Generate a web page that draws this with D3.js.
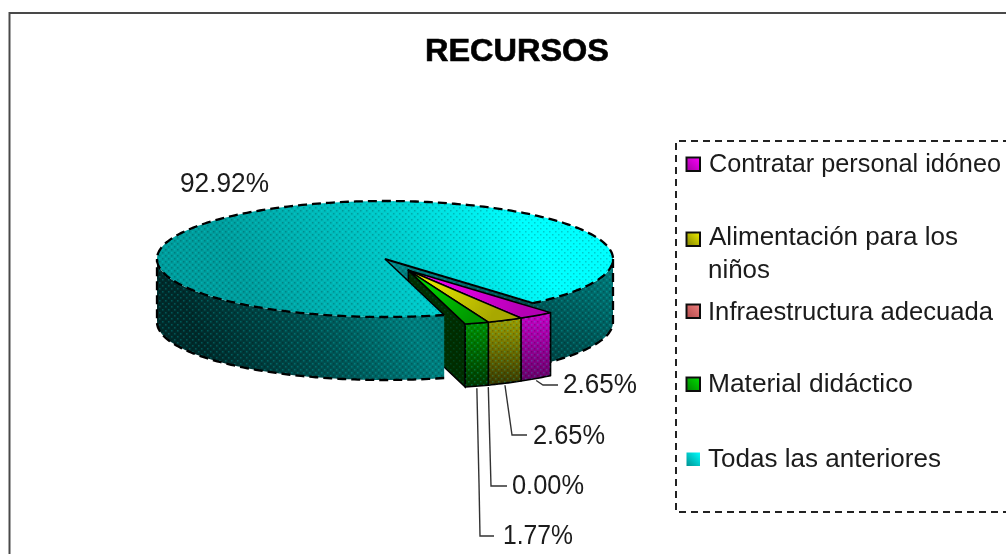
<!DOCTYPE html>
<html><head><meta charset="utf-8">
<script src="https://cdn.jsdelivr.net/npm/d3@7/dist/d3.min.js"></script>
<style>html,body{margin:0;padding:0;background:#fff;overflow:hidden}svg{display:block}text{font-family:"Liberation Sans",Arial,sans-serif;fill:#1a1a1a}</style>
</head><body><svg id="c" width="1006" height="554"></svg>
<script>
// ---- data ----
const categories = ["Contratar personal idóneo","Alimentación para los niños","Infraestructura adecuada","Material didáctico","Todas las anteriores"];
const values = [2.65, 2.65, 0.00, 1.77, 92.92];
const valueLabels = ["2.65%","2.65%","0.00%","1.77%","92.92%"];
const title = "RECURSOS";
// ---- styles ----
const topColors = [["#ff00ff","#b400b4"],["#f8f800","#a8a800"],["#d06060","#a04040"],["#00e800","#009800"]];
const faceColors = [["#c400c4","#6a006a"],["#9a9a00","#3c3c00"],["#a04040","#602020"],["#009000","#003800"]];
const swatchColors = [["#ff00ff","#a000a0"],["#f0f000","#808000"],["#f08080","#b04848"],["#00e000","#008000"],["#00ffff","#009090"]];
// ---- layout ----
const W = 1006, H = 554;
const cx = 385, cy = 259, rx = 228, ry = 58, depth = 63;
const explode = 0.22, wedgeScale = 0.96, startDeg = 139.5;
const leaderElbows = [
  [[543,385],[558,385]],
  [[512,435],[527,435]],
  [[491,486],[507,486]],
  [[479,483],[480,536],[494,536]]
];
const labelBoxes = [[563,393,74],[533,444,72],[512,494,72],[503,544,70],[180,192,89]];
const legendRows = [
  {lines:[[0,null,709,172,292]],sw:157},
  {lines:[[0,21,709,245,249],[22,null,708,278,62]],sw:232},
  {lines:[[0,null,708,320,285]],sw:304},
  {lines:[[0,null,708,392,205]],sw:377},
  {lines:[[0,null,708,467,233]],sw:452}
];

const svg = d3.select("#c");
const defs = svg.append("defs");
const deg = Math.PI/180;

function grad(id,c0,c1,x1,y1,x2,y2,mid){
  const g = defs.append("linearGradient").attr("id",id).attr("gradientUnits","userSpaceOnUse")
    .attr("x1",x1).attr("y1",y1).attr("x2",x2).attr("y2",y2);
  g.append("stop").attr("offset",0).attr("stop-color",c0);
  if(mid) g.append("stop").attr("offset",0.55).attr("stop-color",mid);
  g.append("stop").attr("offset",1).attr("stop-color",c1);
}
grad("gTop","#009c9c","#00ffff",270,335,520,215,"#00caca");
grad("gLeft","#002c2c","#007c7c",225,385,400,300,"#005252");
grad("gRight","#003c3c","#007c7c",540,372,610,262);
grad("gWall","#004e4e","#008a8a",410,320,400,262);

const pat = defs.append("pattern").attr("id","dither").attr("width",6).attr("height",6).attr("patternUnits","userSpaceOnUse");
[[0,0],[3,3]].forEach(p=>pat.append("rect").attr("x",p[0]).attr("y",p[1]).attr("width",1.5).attr("height",1.5).attr("fill","#000").attr("opacity",.2));
[[3,0],[0,3]].forEach(p=>pat.append("rect").attr("x",p[0]).attr("y",p[1]).attr("width",1.5).attr("height",1.5).attr("fill","#0ff").attr("opacity",.2));

defs.append("filter").attr("id","soft").attr("x","-2%").attr("y","-2%").attr("width","104%").attr("height","104%")
  .append("feGaussianBlur").attr("stdDeviation",.45);

const root = svg.append("g").attr("filter","url(#soft)");

// frame
root.append("path").attr("d",d3.line()([[9.5,H+2],[9.5,13],[W+2,13]])).attr("fill","none").attr("stroke","#4a4a4a").attr("stroke-width",2);

// title
root.append("text").attr("x",425).attr("y",61).attr("font-size",31).attr("font-weight","bold")
  .attr("textLength",184).attr("lengthAdjust","spacingAndGlyphs").style("fill","#000").style("stroke","#000").style("stroke-width",.6).text(title);

// pie
const pie = d3.pie().value(d=>d).sort(null).startAngle(startDeg*deg).endAngle((startDeg+360)*deg);
const arcsData = pie(values);
const main = arcsData[4];
const wedges = arcsData.slice(0,4);
const wedgeStart = wedges[0].startAngle, wedgeEnd = wedges[3].endAngle;
const midA = (wedgeStart+wedgeEnd)/2;
const ox = cx + explode*rx*Math.sin(midA), oy = cy - explode*ry*Math.cos(midA);
const wrx = rx*wedgeScale, wry = ry*wedgeScale;

const P  = (a,d=0)=>[cx+rx*Math.sin(a), cy-ry*Math.cos(a)+d];
const PW = (a,d=0)=>[ox+wrx*Math.sin(a), oy-wry*Math.cos(a)+d];
const samples = (a0,a1)=>{const n=Math.max(2,Math.ceil(Math.abs(a1-a0)/(1*deg)));return d3.range(n+1).map(i=>a0+(a1-a0)*i/n);};
const line = d3.line();
const band = (f,a0,a1)=>line(samples(a0,a1).map(a=>f(a,0)).concat(samples(a1,a0).map(a=>f(a,depth))))+"Z";
const face = (g,d,fill,extra)=>{
  const s=g.append("path").attr("d",d).attr("fill",fill);
  if(extra) s.attr("stroke",extra).attr("stroke-width",1.6).attr("stroke-linejoin","round");
  g.append("path").attr("d",d).attr("fill","url(#dither)");
};

const pieG = root.append("g");
// right radial wall of the notch, seen past the wedge tip
face(pieG, line([[cx,cy],P(main.endAngle),P(main.endAngle,depth),[cx,cy+depth]])+"Z","url(#gWall)");
// left side wall of the pulled-out group
const wallD = line([[ox,oy],PW(wedgeEnd),PW(wedgeEnd,depth),[ox,oy+depth]])+"Z";
pieG.append("path").attr("d",wallD).attr("fill","#002e00").attr("stroke","#000").attr("stroke-width",1.5);
pieG.append("path").attr("d",wallD).attr("fill","url(#dither)").attr("opacity",.5);

// main slice side
const leftEnd = 1.5*Math.PI, rightStart = 2.5*Math.PI;
face(pieG, band(P,main.startAngle,leftEnd),"url(#gLeft)");
face(pieG, band(P,rightStart,main.endAngle),"url(#gRight)");

// main slice top: d3.arc flattened into a clip, so paint stays in page coordinates
const arcGen = d3.arc().innerRadius(0).outerRadius(rx);
const flat = `translate(${cx},${cy}) scale(1,${ry/rx})`;
defs.append("clipPath").attr("id","topClip").append("path").attr("d",arcGen(main)).attr("transform",flat);
const topG = pieG.append("g").attr("clip-path","url(#topClip)");
topG.append("rect").attr("width",W).attr("height",H).attr("fill","url(#gTop)");
topG.append("rect").attr("width",W).attr("height",H).attr("fill","url(#dither)");

// dashed outlines
const dash = pieG.append("g").attr("fill","none").attr("stroke","#000").attr("stroke-width",2.3).attr("stroke-dasharray","9 5");
dash.append("path").attr("d",line(samples(main.startAngle,main.endAngle).map(a=>P(a))));
dash.append("path").attr("d",line(samples(main.startAngle,leftEnd).map(a=>P(a,depth)).concat([P(leftEnd)])));
dash.append("path").attr("d",line([P(rightStart)].concat(samples(rightStart,main.endAngle).map(a=>P(a,depth)))));
pieG.append("path").attr("d",line([[cx,cy],P(main.startAngle)])).attr("fill","none").attr("stroke","#000").attr("stroke-width",1.5);
pieG.append("path").attr("d",line([[cx,cy],P(main.endAngle)])).attr("fill","none").attr("stroke","#000").attr("stroke-width",2);

// outer faces of the pulled-out slices
wedges.forEach((d,i)=>{
  if(d.endAngle-d.startAngle<1e-6) return;
  const top = PW((d.startAngle+d.endAngle)/2);
  grad("gFace"+i,faceColors[i][0],faceColors[i][1],top[0],top[1],top[0],top[1]+depth);
  face(pieG, band(PW,d.startAngle,d.endAngle),`url(#gFace${i})`,"#000");
});
// top faces of the pulled-out slices
wedges.forEach((d,i)=>{
  if(d.endAngle-d.startAngle<1e-6) return;
  const pts = [[ox,oy]].concat(samples(d.startAngle,d.endAngle).map(a=>PW(a)));
  grad("gTopW"+i,topColors[i][0],topColors[i][1],ox,oy,PW(d.endAngle)[0],PW(d.endAngle)[1]);
  pieG.append("path").attr("d",line(pts)+"Z").attr("fill",`url(#gTopW${i})`).attr("stroke","#000").attr("stroke-width",1.5).attr("stroke-linejoin","round");
});

// leaders + data labels
wedges.forEach((d,i)=>{
  const a=(d.startAngle+d.endAngle)/2, s=PW(a,depth);
  const pts=[[s[0],s[1]+2]].concat(leaderElbows[i]);
  root.append("path").attr("d",line(pts)).attr("fill","none").attr("stroke","#333").attr("stroke-width",1.4);
});
valueLabels.forEach((t,i)=>{
  const b=labelBoxes[i];
  root.append("text").attr("x",b[0]).attr("y",b[1]).attr("font-size",27).attr("textLength",b[2]).attr("lengthAdjust","spacingAndGlyphs").text(t);
});

// legend
root.append("path").attr("d",line([[W+4,141],[676,141],[676,512],[W+4,512]])).attr("fill","none")
  .attr("stroke","#222").attr("stroke-width",2).attr("stroke-dasharray","7 5");
legendRows.forEach((r,i)=>{
  r.lines.forEach(l=>root.append("text").attr("x",l[2]).attr("y",l[3]).attr("font-size",25.5)
    .attr("textLength",l[4]).attr("lengthAdjust","spacingAndGlyphs")
    .text(categories[i].slice(l[0], l[1]===null?undefined:l[1])));
  grad("gSw"+i,swatchColors[i][1],swatchColors[i][0],686,r.sw+14,700,r.sw);
  root.append("rect").attr("x",686.5).attr("y",r.sw+.5).attr("width",13.5).attr("height",13.5)
    .attr("fill",`url(#gSw${i})`).attr("stroke",i===4?"none":"#111").attr("stroke-width",2);
});
</script></body></html>
